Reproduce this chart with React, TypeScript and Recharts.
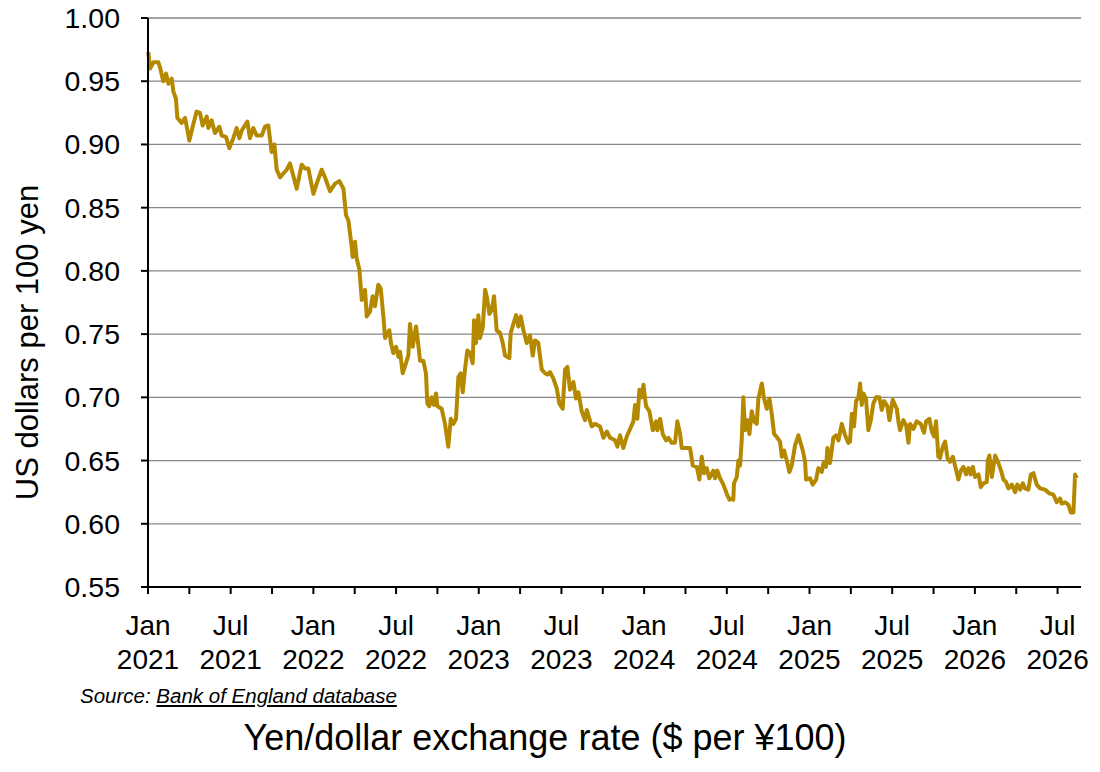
import { LineChart, Line, XAxis, YAxis, CartesianGrid } from "recharts";

// x position of each reading, in months after the start of Jan 2021
const monthOffsets = [
    0.02, 0.15, 0.39, 0.75, 0.87, 1.11, 1.31, 1.48, 1.72, 1.84, 2.03, 2.13, 2.44, 2.69, 3.0, 3.24, 3.53, 3.77, 3.97, 4.26,
    4.38, 4.62, 4.86, 5.18, 5.35, 5.66, 5.9, 6.19, 6.43, 6.63, 6.8, 7.21, 7.4, 7.64, 7.89, 8.25, 8.49, 8.73, 8.97, 9.17,
    9.34, 9.58, 9.82, 10.06, 10.3, 10.5, 10.79, 11.15, 11.39, 11.63, 12.0, 12.24, 12.6, 12.84, 13.21, 13.57, 13.88, 14.18, 14.37, 14.54,
    14.78, 14.85, 15.02, 15.14, 15.34, 15.51, 15.75, 15.87, 16.11, 16.3, 16.47, 16.71, 16.89, 17.08, 17.2, 17.51, 17.63, 17.8, 18.0, 18.17,
    18.29, 18.48, 18.72, 18.89, 19.01, 19.21, 19.45, 19.62, 19.74, 19.98, 20.17, 20.27, 20.41, 20.59, 20.75, 20.9, 21.0, 21.31, 21.55, 21.79,
    21.97, 22.16, 22.35, 22.52, 22.69, 22.84, 23.0, 23.17, 23.37, 23.56, 23.66, 23.8, 23.97, 24.09, 24.29, 24.46, 24.58, 24.77, 24.94, 25.11,
    25.3, 25.54, 25.74, 25.91, 26.22, 26.32, 26.51, 26.71, 26.87, 27.05, 27.24, 27.48, 27.72, 27.92, 28.08, 28.32, 28.57, 28.81, 28.98, 29.17,
    29.41, 29.66, 29.85, 30.09, 30.26, 30.43, 30.62, 30.87, 31.06, 31.23, 31.47, 31.71, 31.84, 32.03, 32.2, 32.44, 32.8, 33.05, 33.29, 33.53,
    33.89, 34.06, 34.25, 34.49, 34.74, 34.98, 35.22, 35.34, 35.51, 35.66, 35.83, 35.95, 36.14, 36.38, 36.63, 36.87, 36.96, 37.16, 37.35, 37.59,
    37.76, 38.0, 38.24, 38.41, 38.61, 38.73, 39.04, 39.33, 39.53, 39.82, 40.01, 40.18, 40.35, 40.54, 40.73, 41.02, 41.15, 41.31, 41.51, 41.75,
    41.99, 42.19, 42.36, 42.47, 42.52, 42.72, 42.84, 42.96, 43.08, 43.2, 43.32, 43.49, 43.64, 43.81, 43.98, 44.17, 44.29, 44.54, 44.7, 44.9,
    45.09, 45.26, 45.43, 45.67, 45.86, 45.99, 46.15, 46.35, 46.54, 46.71, 46.95, 47.19, 47.51, 47.68, 47.75, 48.04, 48.23, 48.48, 48.64, 48.89,
    49.01, 49.2, 49.3, 49.49, 49.73, 49.93, 50.1, 50.34, 50.58, 50.82, 50.94, 51.07, 51.23, 51.38, 51.55, 51.67, 51.79, 51.91, 52.1, 52.27,
    52.45, 52.63, 52.83, 53.07, 53.24, 53.41, 53.65, 53.8, 54.04, 54.33, 54.45, 54.57, 54.81, 55.01, 55.18, 55.3, 55.54, 55.78, 56.07, 56.31,
    56.46, 56.7, 56.87, 57.04, 57.18, 57.35, 57.47, 57.67, 57.84, 58.01, 58.2, 58.4, 58.56, 58.8, 58.98, 59.17, 59.36, 59.53, 59.7, 59.85,
    60.02, 60.26, 60.43, 60.62, 60.86, 60.94, 61.05, 61.23, 61.47, 61.71, 61.9, 62.07, 62.26, 62.43, 62.68, 62.92, 63.08, 63.28, 63.48, 63.64,
    63.88, 64.06, 64.25, 64.49, 64.73, 65.09, 65.41, 65.7, 65.94, 66.18, 66.3, 66.55, 66.79, 66.96, 67.15, 67.27, 67.39,
];

// US dollars per 100 yen
const usdPer100Yen = [
    0.973, 0.96, 0.965, 0.965, 0.961, 0.95, 0.956, 0.948, 0.952, 0.942, 0.936, 0.921, 0.917, 0.921, 0.903, 0.914, 0.926, 0.925, 0.915, 0.922,
    0.913, 0.919, 0.909, 0.914, 0.907, 0.906, 0.897, 0.905, 0.913, 0.905, 0.911, 0.918, 0.905, 0.913, 0.907, 0.907, 0.914, 0.915, 0.894, 0.9,
    0.88, 0.874, 0.877, 0.88, 0.885, 0.877, 0.865, 0.884, 0.881, 0.881, 0.861, 0.869, 0.88, 0.874, 0.863, 0.869, 0.871, 0.865, 0.844, 0.84,
    0.819, 0.811, 0.823, 0.81, 0.801, 0.777, 0.785, 0.764, 0.768, 0.78, 0.772, 0.789, 0.786, 0.764, 0.747, 0.753, 0.743, 0.735, 0.74, 0.732,
    0.736, 0.719, 0.727, 0.733, 0.758, 0.74, 0.756, 0.741, 0.729, 0.729, 0.719, 0.695, 0.693, 0.7, 0.694, 0.703, 0.693, 0.691, 0.679, 0.661,
    0.683, 0.679, 0.683, 0.716, 0.719, 0.704, 0.722, 0.737, 0.735, 0.727, 0.761, 0.743, 0.765, 0.747, 0.755, 0.785, 0.78, 0.766, 0.769, 0.78,
    0.753, 0.751, 0.743, 0.733, 0.731, 0.751, 0.758, 0.765, 0.756, 0.764, 0.753, 0.743, 0.749, 0.733, 0.745, 0.743, 0.722, 0.719, 0.718, 0.72,
    0.715, 0.707, 0.695, 0.691, 0.722, 0.724, 0.706, 0.712, 0.699, 0.704, 0.689, 0.682, 0.69, 0.683, 0.677, 0.679, 0.677, 0.668, 0.673, 0.668,
    0.666, 0.661, 0.67, 0.66, 0.669, 0.675, 0.681, 0.694, 0.683, 0.706, 0.7, 0.71, 0.693, 0.689, 0.674, 0.681, 0.674, 0.683, 0.671, 0.666,
    0.668, 0.664, 0.664, 0.681, 0.671, 0.66, 0.66, 0.66, 0.646, 0.645, 0.635, 0.653, 0.64, 0.644, 0.636, 0.642, 0.636, 0.642, 0.636, 0.631,
    0.624, 0.619, 0.62, 0.619, 0.632, 0.637, 0.65, 0.646, 0.666, 0.7, 0.674, 0.682, 0.671, 0.689, 0.681, 0.679, 0.699, 0.711, 0.699, 0.691,
    0.699, 0.687, 0.671, 0.668, 0.665, 0.653, 0.658, 0.65, 0.641, 0.646, 0.662, 0.67, 0.658, 0.649, 0.635, 0.636, 0.631, 0.635, 0.644, 0.641,
    0.648, 0.645, 0.66, 0.648, 0.668, 0.67, 0.666, 0.679, 0.67, 0.664, 0.665, 0.687, 0.677, 0.697, 0.7, 0.711, 0.694, 0.703, 0.699, 0.674,
    0.682, 0.695, 0.7, 0.7, 0.69, 0.697, 0.693, 0.682, 0.698, 0.691, 0.681, 0.674, 0.682, 0.678, 0.664, 0.679, 0.675, 0.681, 0.679, 0.672,
    0.681, 0.683, 0.673, 0.669, 0.681, 0.653, 0.652, 0.661, 0.665, 0.652, 0.649, 0.653, 0.646, 0.635, 0.642, 0.645, 0.639, 0.644, 0.639, 0.645,
    0.637, 0.639, 0.629, 0.632, 0.633, 0.65, 0.654, 0.637, 0.654, 0.648, 0.642, 0.635, 0.633, 0.628, 0.631, 0.625, 0.631, 0.627, 0.632, 0.628,
    0.627, 0.639, 0.64, 0.631, 0.628, 0.627, 0.624, 0.623, 0.617, 0.62, 0.616, 0.617, 0.615, 0.609, 0.609, 0.639, 0.636,
];

const xTicks = [0, 3, 6, 9, 12, 15, 18, 21, 24, 27, 30, 33, 36, 39, 42, 45, 48, 51, 54, 57, 60, 63, 66];
const yTicks = [0.55, 0.6, 0.65, 0.7, 0.75, 0.8, 0.85, 0.9, 0.95, 1.0];
const tickMonthNames = ["Jan", "Jul"];
const firstYear = 2021;

const FONT = "'Liberation Sans', Arial, sans-serif";
const LINE_COLOR = "#B48900";

const data = monthOffsets.map((m, i) => ({ m, rate: usdPer100Yen[i] }));

const MonthTick = (props: any) => {
    const { x, y, payload } = props;
    const v = payload.value;
    if (v % 6 !== 0) return null;
    const name = tickMonthNames[(v / 6) % 2];
    const year = firstYear + Math.floor(v / 12);
    return (
        <g>
            <text x={x} y={y + 41} textAnchor="middle" fontSize={28} fontFamily={FONT} fill="#000">{name}</text>
            <text x={x} y={y + 75} textAnchor="middle" fontSize={28} fontFamily={FONT} fill="#000">{year}</text>
        </g>
    );
};

const RateTick = (props: any) => {
    const { x, y, payload } = props;
    return (
        <text x={x} y={y + 10} textAnchor="end" fontSize={28.5} fontFamily={FONT} fill="#000">
            {payload.value.toFixed(2)}
        </text>
    );
};

const App = () => {
    return (
        <div style={{ position: "absolute", left: 0, top: 0, width: 1100, height: 772, background: "#fff", fontFamily: FONT }}>
            <LineChart width={1100} height={772} data={data} margin={{ top: 18, right: 19, bottom: 125, left: 0 }}>
                <CartesianGrid vertical={false} stroke="#868686" strokeWidth={1.3} />
                <XAxis
                    dataKey="m"
                    type="number"
                    domain={[0, 67.7]}
                    ticks={xTicks}
                    interval={0}
                    height={60}
                    tickSize={7}
                    tickMargin={0}
                    axisLine={{ stroke: "#000", strokeWidth: 2 }}
                    tickLine={{ stroke: "#000", strokeWidth: 2 }}
                    tick={<MonthTick />}
                />
                <YAxis
                    type="number"
                    domain={[0.55, 1.0]}
                    ticks={yTicks}
                    interval={0}
                    width={148}
                    tickSize={7}
                    tickMargin={21}
                    axisLine={{ stroke: "#000", strokeWidth: 2 }}
                    tickLine={{ stroke: "#000", strokeWidth: 2 }}
                    tick={<RateTick />}
                />
                <Line
                    type="linear"
                    dataKey="rate"
                    stroke={LINE_COLOR}
                    strokeWidth={4}
                    strokeLinejoin="round"
                    dot={false}
                    activeDot={false}
                    isAnimationActive={false}
                />
                <text
                    x={37.5}
                    y={342.5}
                    transform="rotate(-90 37.5 342.5)"
                    textAnchor="middle"
                    fontSize={31}
                    fontFamily={FONT}
                    fill="#000"
                >
                    US dollars per 100 yen
                </text>
            </LineChart>
            <div style={{ position: "absolute", left: 80, top: 686, fontSize: 20.5, lineHeight: "20.5px", fontStyle: "italic", color: "#000" }}>
                Source: <span style={{ textDecoration: "underline" }}>Bank of England database</span>
            </div>
            <div style={{ position: "absolute", left: 0, width: 1090, top: 720, fontSize: 36, lineHeight: "36px", textAlign: "center", color: "#000" }}>
                Yen/dollar exchange rate ($ per ¥100)
            </div>
        </div>
    );
};

export default App;
